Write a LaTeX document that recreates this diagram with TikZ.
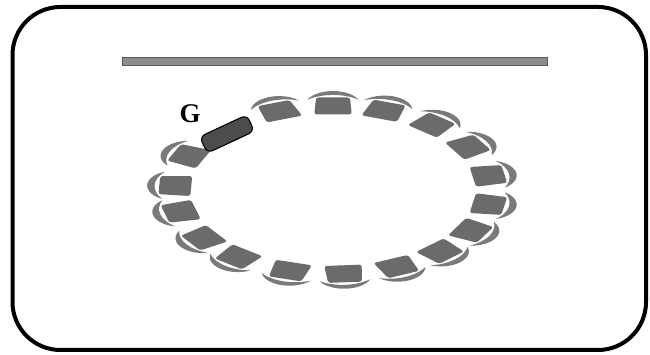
\documentclass[tikz,border=0pt]{standalone}
\usepackage{fontspec}
\setmainfont{Liberation Serif}
\begin{document}
\begin{tikzpicture}[x=1pt,y=1pt,
  seat/.style={fill=black!58, rounded corners=2.5pt},
  backrest/.style={fill=black!52},
  frame/.style={draw=black, line width=4pt, rounded corners=48pt},
  bar/.style={fill=black!45, draw=black!65, line width=0.8pt},
  gchair/.style={fill=black!70, draw=black, line width=1.1pt, rounded corners=6pt}]
\useasboundingbox (0,0) rectangle (650,355);
\draw[frame] (12.5,5) rectangle (646,348);
\draw[bar] (122,290) rectangle (547,298);
\begin{scope}[shift={(333,165)}, xscale=1.88]
\foreach \a in {110,90,71,51,31,10,-10,-29,-47,-66,-86,-106,-127,-145,-165,177,156}{
  \begin{scope}[shift={(\a:84)}, rotate=\a-90]
    \fill[seat] (-10,-8.5) -- (10,-8.5) -- (9,8.5) -- (-9,8.5) -- cycle;
    \fill[backrest] (25:15) arc[start angle=25, end angle=155, radius=15]
      arc[start angle=128.1, end angle=51.9, radius=22.03] -- cycle;
  \end{scope}
}
\end{scope}
\node[gchair, rotate=25, minimum width=52pt, minimum height=18pt] (g) at (227,221) {};
\node[font=\bfseries\fontsize{27}{27}\selectfont] (glabel) at (190,241) {G};
\end{tikzpicture}
\end{document}
